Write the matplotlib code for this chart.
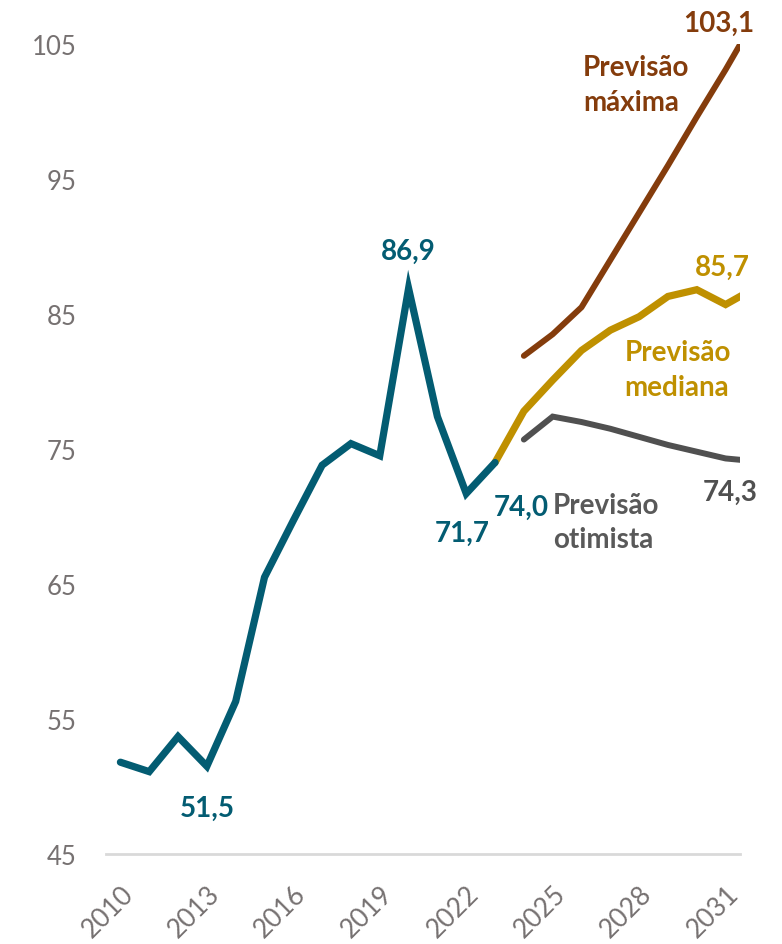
import matplotlib
matplotlib.use("Agg")
import matplotlib.pyplot as plt

plt.rcParams['font.family'] = ['Lato', 'DejaVu Sans']

# Historical series
hist_years = list(range(2010, 2024))
hist_values = [51.8, 51.1, 53.7, 51.5, 56.3, 65.5, 69.7, 73.8, 75.4, 74.5, 86.9, 77.4, 71.7, 74.0]

# Forecast scenarios
median_years = list(range(2023, 2033))
median_values = [74.0, 77.8, 80.1, 82.3, 83.8, 84.8, 86.3, 86.8, 85.7, 86.9]

max_years = list(range(2024, 2033))
max_values = [81.9, 83.5, 85.5, 89.0, 92.5, 96.0, 99.6, 103.1, 106.8]

opt_years = list(range(2024, 2033))
opt_values = [75.7, 77.4, 77.0, 76.5, 75.9, 75.3, 74.8, 74.3, 74.1]

xtick_years = [2010, 2013, 2016, 2019, 2022, 2025, 2028, 2031]
ytick_values = [45, 55, 65, 75, 85, 95, 105]

TEAL = '#035C72'
GOLD = '#BF9000'
BROWN = '#843C0C'
GRAY_LINE = '#505050'
GRAY_TEXT = '#595959'
TICK = '#767171'

fig = plt.figure(figsize=(7.82, 9.45), dpi=100)
ax = fig.add_axes([106 / 782, 90 / 945, 634 / 782, 810 / 945])

ax.plot(median_years, median_values, color=GOLD, lw=5.2, solid_capstyle='round',
        solid_joinstyle='miter', zorder=3)
ax.plot(max_years, max_values, color=BROWN, lw=4.3, solid_capstyle='round',
        solid_joinstyle='miter', zorder=3)
ax.plot(opt_years, opt_values, color=GRAY_LINE, lw=4.3, solid_capstyle='round',
        solid_joinstyle='miter', zorder=3)
ax.plot(hist_years, hist_values, color=TEAL, lw=5.2, solid_capstyle='round',
        solid_joinstyle='miter', zorder=4)

ax.set_xlim(2009.5, 2031.5)
ax.set_ylim(45, 105)

ax.set_yticks(ytick_values)
ax.set_yticklabels([str(v) for v in ytick_values], fontsize=18.5, color=TICK)
ax.set_xticks(xtick_years)
ax.set_xticklabels([str(y) for y in xtick_years], fontsize=19, color=TICK,
                   rotation=45, ha='right', va='top', rotation_mode='anchor')
ax.tick_params(axis='both', length=0)
ax.tick_params(axis='y', pad=21)
ax.tick_params(axis='x', pad=19)

for side in ['left', 'right', 'top']:
    ax.spines[side].set_visible(False)
ax.spines['bottom'].set_color('#D9D9D9')
ax.spines['bottom'].set_linewidth(2)

bold = dict(fontsize=20, fontweight='bold', clip_on=False)

# Value labels on the historical series
hist = dict(zip(hist_years, hist_values))
ax.annotate('51,5', (2013, hist[2013]), xytext=(0, -30), textcoords='offset points',
            ha='center', va='center', color=TEAL, **bold)
ax.annotate('86,9', (2020, hist[2020]), xytext=(0, 27), textcoords='offset points',
            ha='center', va='center', color=TEAL, **bold)
ax.annotate('71,7', (2022, hist[2022]), xytext=(-3, -28), textcoords='offset points',
            ha='center', va='center', color=TEAL, **bold)
ax.annotate('74,0', (2023, hist[2023]), xytext=(19, -32), textcoords='offset points',
            ha='center', va='center', color=TEAL, **bold)

# Value labels at the end of each scenario
med = dict(zip(median_years, median_values))
mx = dict(zip(max_years, max_values))
op = dict(zip(opt_years, opt_values))
ax.annotate('85,7', (2031, med[2031]), xytext=(-2, 27), textcoords='offset points',
            ha='center', va='center', color=GOLD, **bold)
ax.annotate('103,1', (2031, mx[2031]), xytext=(-5, 34), textcoords='offset points',
            ha='center', va='center', color=BROWN, **bold)
ax.annotate('74,3', (2031, op[2031]), xytext=(3, -24), textcoords='offset points',
            ha='center', va='center', color=GRAY_LINE, **bold)

# Scenario names
ax.text(2026.05, 102.0, 'Previsão\nmáxima', color=BROWN, ha='left', va='center',
        linespacing=1.4, **bold)
ax.text(2027.5, 80.9, 'Previsão\nmediana', color=GOLD, ha='left', va='center',
        linespacing=1.4, **bold)
ax.text(2025.0, 69.6, 'Previsão\notimista', color=GRAY_TEXT, ha='left', va='center',
        linespacing=1.4, **bold)

fig.savefig('out.png', dpi=100)
